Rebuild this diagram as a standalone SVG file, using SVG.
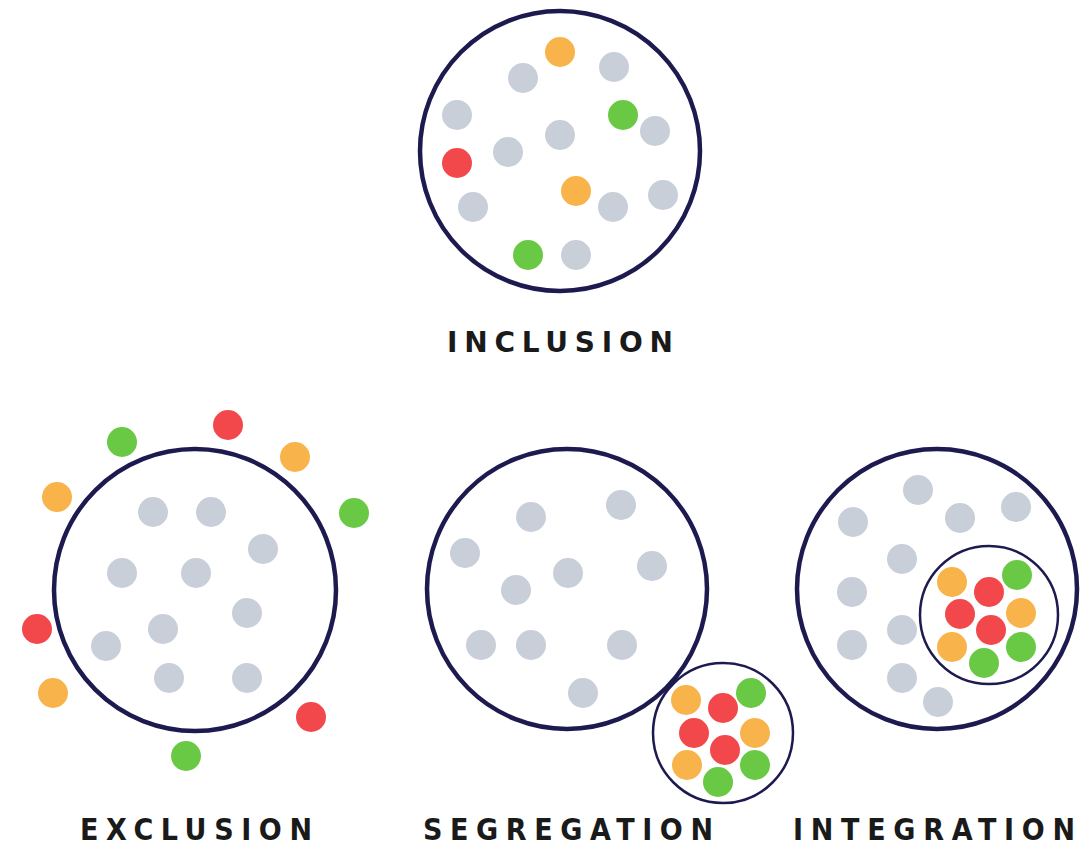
<svg xmlns="http://www.w3.org/2000/svg" width="1081" height="848" viewBox="0 0 1081 848">
<style>
.big{fill:none;stroke:#1d1a4f;stroke-width:4.5}
.small{fill:none;stroke:#1d1a4f;stroke-width:2.5}
.g{fill:#c8cfd9}
.o{fill:#f8b44a}
.gr{fill:#69c945}
.r{fill:#f2484b}
.t1{font-family:"DejaVu Sans","Liberation Sans",sans-serif;font-weight:bold;font-size:28px;fill:#1a1a1a}
.t2{font-family:"Liberation Sans Narrow","DejaVu Sans Condensed","Liberation Sans",sans-serif;font-stretch:condensed;font-weight:bold;font-size:30px;fill:#1a1a1a}
</style>
<rect width="1081" height="848" fill="#ffffff"/>
<g id="inclusion">
<circle class="big" cx="560" cy="151" r="140"/>
<circle class="o" cx="560" cy="52" r="15"/>
<circle class="g" cx="523" cy="78" r="15"/>
<circle class="g" cx="614" cy="67" r="15"/>
<circle class="g" cx="457" cy="115" r="15"/>
<circle class="gr" cx="623" cy="115" r="15"/>
<circle class="g" cx="655" cy="131" r="15"/>
<circle class="g" cx="560" cy="135" r="15"/>
<circle class="g" cx="508" cy="152" r="15"/>
<circle class="r" cx="457" cy="163" r="15"/>
<circle class="o" cx="576" cy="191" r="15"/>
<circle class="g" cx="473" cy="207" r="15"/>
<circle class="g" cx="613" cy="207" r="15"/>
<circle class="g" cx="663" cy="195" r="15"/>
<circle class="gr" cx="528" cy="255" r="15"/>
<circle class="g" cx="576" cy="255" r="15"/>
<text class="t1" x="447" y="352" textLength="226" lengthAdjust="spacing">INCLUSION</text>
</g>
<g id="exclusion">
<circle class="big" cx="195" cy="590" r="141"/>
<circle class="gr" cx="122" cy="442" r="15"/>
<circle class="r" cx="228" cy="425" r="15"/>
<circle class="o" cx="295" cy="457" r="15"/>
<circle class="gr" cx="354" cy="513" r="15"/>
<circle class="o" cx="57" cy="497" r="15"/>
<circle class="g" cx="153" cy="512" r="15"/>
<circle class="g" cx="211" cy="512" r="15"/>
<circle class="g" cx="263" cy="549" r="15"/>
<circle class="g" cx="122" cy="573" r="15"/>
<circle class="g" cx="196" cy="573" r="15"/>
<circle class="g" cx="247" cy="613" r="15"/>
<circle class="g" cx="163" cy="629" r="15"/>
<circle class="r" cx="37" cy="629" r="15"/>
<circle class="g" cx="106" cy="646" r="15"/>
<circle class="g" cx="169" cy="678" r="15"/>
<circle class="g" cx="247" cy="678" r="15"/>
<circle class="o" cx="53" cy="693" r="15"/>
<circle class="r" cx="311" cy="717" r="15"/>
<circle class="gr" cx="186" cy="756" r="15"/>
<text class="t2" x="80" y="840" textLength="232" lengthAdjust="spacing">EXCLUSION</text>
</g>
<g id="segregation">
<circle class="big" cx="567" cy="589" r="140"/>
<circle class="g" cx="531" cy="517" r="15"/>
<circle class="g" cx="621" cy="505" r="15"/>
<circle class="g" cx="465" cy="553" r="15"/>
<circle class="g" cx="568" cy="573" r="15"/>
<circle class="g" cx="652" cy="566" r="15"/>
<circle class="g" cx="516" cy="590" r="15"/>
<circle class="g" cx="481" cy="645" r="15"/>
<circle class="g" cx="531" cy="645" r="15"/>
<circle class="g" cx="622" cy="645" r="15"/>
<circle class="g" cx="583" cy="693" r="15"/>
<circle cx="723" cy="733" r="70" fill="#ffffff" stroke="#1d1a4f" stroke-width="2.5"/>
<circle class="o" cx="686" cy="700" r="15"/>
<circle class="r" cx="723" cy="708" r="15"/>
<circle class="gr" cx="751" cy="693" r="15"/>
<circle class="r" cx="694" cy="733" r="15"/>
<circle class="o" cx="755" cy="733" r="15"/>
<circle class="r" cx="725" cy="750" r="15"/>
<circle class="o" cx="687" cy="765" r="15"/>
<circle class="gr" cx="755" cy="765" r="15"/>
<circle class="gr" cx="718" cy="782" r="15"/>
<text class="t2" x="423" y="840" textLength="290" lengthAdjust="spacing">SEGREGATION</text>
</g>
<g id="integration">
<circle class="big" cx="937" cy="589" r="140"/>
<circle class="g" cx="918" cy="490" r="15"/>
<circle class="g" cx="960" cy="518" r="15"/>
<circle class="g" cx="1016" cy="507" r="15"/>
<circle class="g" cx="853" cy="522" r="15"/>
<circle class="g" cx="902" cy="559" r="15"/>
<circle class="g" cx="852" cy="592" r="15"/>
<circle class="g" cx="902" cy="630" r="15"/>
<circle class="g" cx="852" cy="645" r="15"/>
<circle class="g" cx="902" cy="678" r="15"/>
<circle class="g" cx="938" cy="702" r="15"/>
<circle class="small" cx="989" cy="615" r="69"/>
<circle class="o" cx="952" cy="582" r="15"/>
<circle class="r" cx="989" cy="592" r="15"/>
<circle class="gr" cx="1017" cy="575" r="15"/>
<circle class="r" cx="960" cy="614" r="15"/>
<circle class="o" cx="1021" cy="613" r="15"/>
<circle class="r" cx="991" cy="630" r="15"/>
<circle class="o" cx="952" cy="647" r="15"/>
<circle class="gr" cx="1021" cy="647" r="15"/>
<circle class="gr" cx="984" cy="663" r="15"/>
<text class="t2" x="793" y="840" textLength="282" lengthAdjust="spacing">INTEGRATION</text>
</g>
<g id="connectors"></g>
</svg>
